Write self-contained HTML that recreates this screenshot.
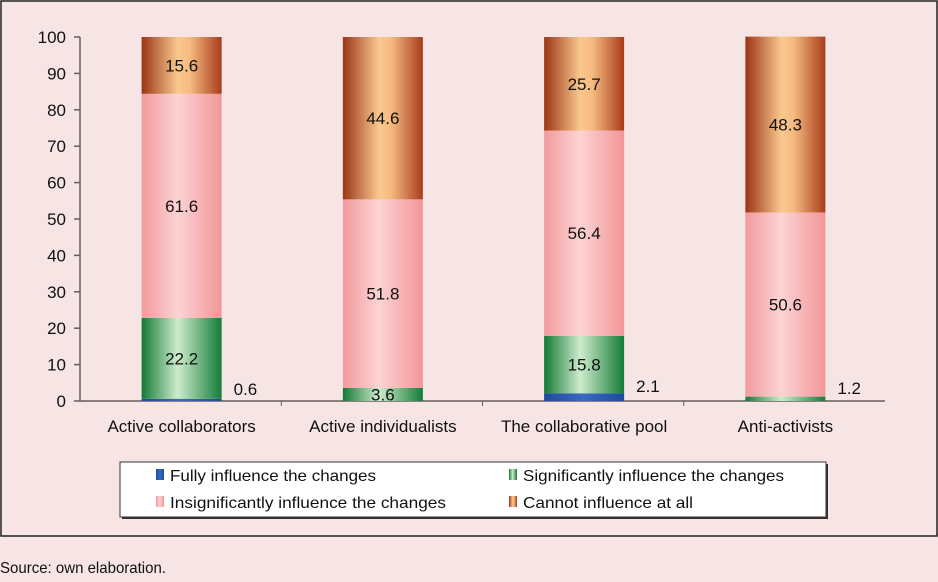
<!DOCTYPE html>
<html><head><meta charset="utf-8"><style>
body{margin:0;width:938px;height:577px;background:#f7e5e6;font-family:"Liberation Sans",sans-serif;overflow:hidden}
</style></head><body>
<svg width="938" height="577" xmlns="http://www.w3.org/2000/svg">
<defs>
<linearGradient id="gBrown" x1="0" x2="1"><stop offset="0" stop-color="#9b3516"/><stop offset="0.45" stop-color="#f9c88e"/><stop offset="0.6" stop-color="#f6bb80"/><stop offset="1" stop-color="#a83c1c"/></linearGradient>
<linearGradient id="gPink" x1="0" x2="1"><stop offset="0" stop-color="#f39a9c"/><stop offset="0.45" stop-color="#fcd3d4"/><stop offset="1" stop-color="#f29698"/></linearGradient>
<linearGradient id="gGreen" x1="0" x2="1"><stop offset="0" stop-color="#137a35"/><stop offset="0.45" stop-color="#cdeccd"/><stop offset="1" stop-color="#157c37"/></linearGradient>
<linearGradient id="gBlue" x1="0" x2="1"><stop offset="0" stop-color="#1c4aa0"/><stop offset="0.5" stop-color="#3a6ac0"/><stop offset="1" stop-color="#1c4aa0"/></linearGradient>
</defs>
<rect x="1" y="1" width="936" height="535" fill="#f7e5e6" stroke="#222" stroke-width="1.5"/>
<g id="plot"></g>
<g>
<rect x="122" y="464" width="706" height="55" fill="#333"/>
<rect x="120" y="462" width="706" height="55" fill="#fff" stroke="#333"/>
<g font-size="16" fill="#111">
<g><rect x="156" y="469" width="8" height="11" fill="url(#gBlue)"/><text x="170" y="481" textLength="206" lengthAdjust="spacingAndGlyphs">Fully influence the changes</text></g>
<g><rect x="509" y="469" width="8" height="11" fill="url(#gGreen)"/><text x="523" y="481" textLength="261" lengthAdjust="spacingAndGlyphs">Significantly influence the changes</text></g>
<g><rect x="156" y="496" width="8" height="11" fill="url(#gPink)"/><text x="170" y="508" textLength="276" lengthAdjust="spacingAndGlyphs">Insignificantly influence the changes</text></g>
<g><rect x="509" y="496" width="8" height="11" fill="url(#gBrown)"/><text x="523" y="508" textLength="170" lengthAdjust="spacingAndGlyphs">Cannot influence at all</text></g>
</g></g>
<text x="0" y="573" font-size="16" fill="#111" textLength="166" lengthAdjust="spacingAndGlyphs">Source: own elaboration.</text>
</svg>
<script>
const categories=["Active collaborators","Active individualists","The collaborative pool","Anti-activists"];
const fully=[0.6,0,2.1,0];
const significantly=[22.2,3.6,15.8,1.2];
const insignificantly=[61.6,51.8,56.4,50.6];
const cannot=[15.6,44.6,25.7,48.3];
const yTicks=[0,10,20,30,40,50,60,70,80,90,100];
const NS="http://www.w3.org/2000/svg";
const g=document.getElementById('plot');
const y0=401,y100=37,xL=80,xR=885;
const y=v=>y0-(y0-y100)*v/100;
const catW=(xR-xL)/categories.length;
const xc=i=>xL+catW*(i+0.5)+1;
const bw=80;
function mk(t,a){const e=document.createElementNS(NS,t);for(const k in a)e.setAttribute(k,a[k]);g.appendChild(e);return e;}
let ax=mk('line',{x1:xL,y1:y100,x2:xL,y2:y0,stroke:'#6b5b5b','stroke-width':1.5});


let bx=mk('line',{x1:xL,y1:y0,x2:xR,y2:y0,stroke:'#6b5b5b','stroke-width':1.5});


yTicks.forEach(v=>{
 mk('line',{x1:xL-6,y1:y(v),x2:xL,y2:y(v),stroke:'#6b5b5b','stroke-width':1.5});
 const t=mk('text',{x:xL-14,y:y(v)+6,'text-anchor':'end','font-size':17,fill:'#111'});t.textContent=v;
 
 
});
for(let i=1;i<categories.length;i++)mk('line',{x1:xL+catW*i,y1:y0,x2:xL+catW*i,y2:y0+5,stroke:'#6b5b5b'});
const series=[[fully,'url(#gBlue)','fully'],[significantly,'url(#gGreen)','significantly'],[insignificantly,'url(#gPink)','insignificantly'],[cannot,'url(#gBrown)','cannot']];
categories.forEach((c,i)=>{
 let acc=0;
 series.forEach(([arr,fill,nm])=>{
  const v=arr[i];if(v<=0)return;
  const top=y(acc+v),bot=y(acc);
  const r=mk('rect',{x:xc(i)-bw/2,y:top,width:bw,height:bot-top,fill:fill});
  
  
  const big=v>=3;
  const t=mk('text',{x:big?xc(i):xc(i)+bw/2+12,y:big?(top+bot)/2+6:(top+bot)/2-5,'text-anchor':big?'middle':'start','font-size':17,fill:'#111'});
  t.textContent=v.toFixed(1);
  
  
  acc+=v;
 });
 const t=mk('text',{x:xc(i),y:432,'text-anchor':'middle','font-size':17,fill:'#111'});t.textContent=c;
 
 
});
</script>
</body></html>
